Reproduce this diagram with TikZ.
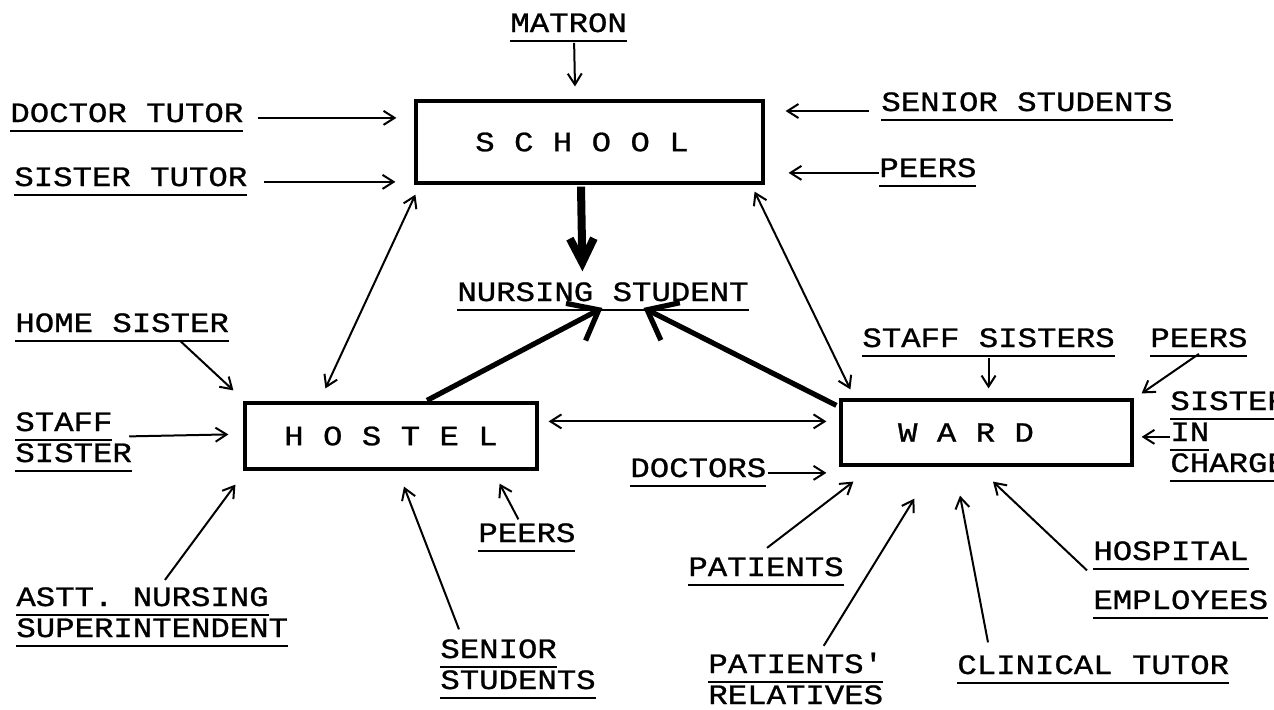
\documentclass[tikz,border=0pt]{standalone}
\usepackage{fontspec}
\setmonofont{Liberation Mono}[FakeStretch=1.155, UprightFeatures={FakeBold=0.9}]
\usetikzlibrary{arrows.meta,calc}
\newcommand\myul[1]{\vtop{\hbox{#1}\kern3.8pt\hrule height1.3pt}}
\newcommand\labfont{\fontsize{14pt}{15.5pt}\selectfont\ttfamily\lineskiplimit=-20pt\relax}
\tikzset{
  lab/.style={anchor=base west, inner sep=0pt, align=left, font=\labfont},
  place/.style={draw, line width=1.6pt, inner sep=0pt, font=\labfont},
  arr/.style={line width=1pt, -{Straight Barb[length=5.5pt,width=7pt]}},
  dbl/.style={line width=1pt, {Straight Barb[length=5.5pt,width=7pt]}-{Straight Barb[length=5.5pt,width=7pt]}},
  thick arr/.style={line width=2.6pt, -{Straight Barb[length=13pt,width=21pt]}},
  main arr/.style={line width=4pt, -{Straight Barb[length=12pt,width=12pt]}},
}
\begin{document}
\begin{tikzpicture}[x=0.5pt,y=-0.5pt]
\fill[white] (0,0) rectangle (1274,709);
\useasboundingbox (0,0) rectangle (1274,709);

% places
\node[place, minimum width=173.5pt, minimum height=41pt] (school) at (589.5,142) {S C H O O L\kern7.5pt\mbox{}};
\node[place, minimum width=146pt, minimum height=33pt] (hostel) at (391,436) {H O S T E L};
\node[place, minimum width=145.5pt, minimum height=32.5pt] (ward) at (986.5,432.5) {W A R D\kern20.5pt\mbox{}};

% labels (multi-line labels are placed by the baseline of their last line)
\node[lab] (matron) at (510,32) {\myul{MATRON}};
\node[lab] (dt) at (10,122) {\myul{DOCTOR TUTOR}};
\node[lab] (st) at (14,186) {\myul{SISTER TUTOR}};
\node[lab] (ss) at (881,111) {\myul{SENIOR STUDENTS}};
\node[lab] (pr1) at (879,177) {\myul{PEERS}};
\node[lab] (ns) at (457,301) {\myul{NURSING STUDENT}};
\node[lab] (hs) at (15,332) {\myul{HOME SISTER}};
\node[lab] (stf) at (15,462) {\myul{STAFF}\\\myul{SISTER}};
\node[lab] (astt) at (16,637) {\myul{ASTT. NURSING}\\\myul{SUPERINTENDENT}};
\node[lab] (sen) at (440,689) {\myul{SENIOR}\\\myul{STUDENTS}};
\node[lab] (pr2) at (478,542) {\myul{PEERS}};
\node[lab] (sss) at (862,347) {\myul{STAFF SISTERS}};
\node[lab] (pr3) at (1150,347) {\myul{PEERS}};
\node[lab] (sic) at (1170,472) {\myul{SISTER}\\\myul{IN}\\\myul{CHARGE}};
\node[lab] (doc) at (630,477) {\myul{DOCTORS}};
\node[lab] (pat) at (688,576) {\myul{PATIENTS}};
\node[lab] (rel) at (708,704) {\myul{PATIENTS'}\\\myul{RELATIVES}};
\node[lab] (ct) at (957,674) {\myul{CLINICAL TUTOR}};
\node[lab] (he) at (1093,609) {\myul{HOSPITAL}\\[9pt]\myul{EMPLOYEES}};

% school inputs
\draw[arr] ($(matron.south)+(5.5,0)$) -- ($(school.north)+(-14.5,-13)$);
\draw[arr, shorten <=7pt, shorten >=9pt] (dt.east) -- (dt.east -| school.west);
\draw[arr, shorten <=8pt, shorten >=9.5pt] (st.east) -- (st.east -| school.west);
\draw[arr, shorten <=6pt, shorten >=10.5pt] (ss.base west) -- (ss.base west -| school.east);
\draw[arr, shorten >=12pt] (pr1.west) -- (pr1.west -| school.east);

% main links
\draw[main arr] ($(school.south)+(-8.5,2)$) -- ($(ns.north)+(-20.5,-10.5)$);
\draw[thick arr] ($(hostel.north)+(36,-1)$) -- ($(ns.south)+(-0.5,-4)$);
\draw[thick arr] ($(ward.north west)+(-3,7)$) -- ($(ns.south)+(40.5,-4)$);
\draw[dbl] ($(hostel.north west)+(82,-13)$) -- ($(school.south west)+(1,10)$);
\draw[dbl] ($(school.south east)+(-10,7)$) -- ($(ward.north west)+(11,-9)$);
\draw[dbl] ($(hostel.north east)+(10,20)$) -- ($(ward.north west)+(-13,23)$);

% hostel inputs
\draw[arr] ($(hs.south)+(58,-2)$) -- ($(hostel.north west)+(-10,-11)$);
\draw[arr] ($(stf.east)+(-3,-6)$) -- ($(hostel.north west)+(-15,33)$);
\draw[arr] ($(astt.north west)+(149,-7)$) -- ($(hostel.south west)+(-8,14)$);
\draw[arr] ($(sen.north west)+(19,-9.5)$) -- ($(hostel.south)+(13,16)$);
\draw[arr] ($(pr2.north)+(-8.5,-3.5)$) -- ($(hostel.south east)+(-39,13)$);

% ward inputs
\draw[arr, shorten >=5pt] (sss.south) -- (sss.south |- ward.north);
\draw[arr] ($(pr3.south)+(0,-4)$) -- ($(ward.north east)+(8,-5)$);
\draw[arr, shorten >=4pt] (sic.west) -- (sic.west -| ward.east);
\draw[arr, shorten <=0.5pt, shorten >=6.5pt] (doc.east) -- (doc.east -| ward.west);
\draw[arr] ($(pat.north)+(1,-9)$) -- ($(ward.south west)+(14,15)$);
\draw[arr] ($(rel.north)+(28,-6.5)$) -- ($(ward.south west)+(75,32)$);
\draw[arr] ($(ct.north west)+(31,-12.5)$) -- ($(ward.south)+(-26.5,29)$);
\draw[arr] ($(he.west)+(-6,-10)$) -- ($(ward.south)+(6.5,15)$);
\end{tikzpicture}
\end{document}
